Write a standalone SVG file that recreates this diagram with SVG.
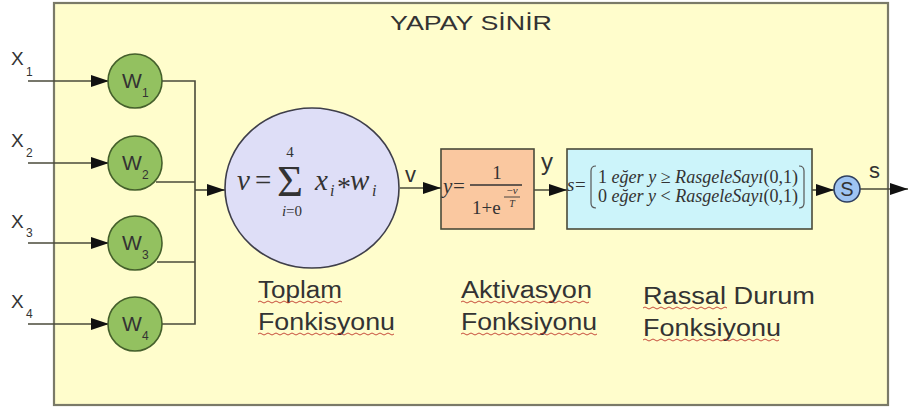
<svg xmlns="http://www.w3.org/2000/svg" width="908" height="409" viewBox="0 0 908 409">
<defs>
<marker id="ah" markerWidth="18" markerHeight="12" refX="18" refY="6" orient="auto" markerUnits="userSpaceOnUse"><path d="M0,0 L18,6 L0,12 z" fill="#111"/></marker>
<style>
.sans{font-family:"Liberation Sans",Arial,sans-serif;fill:#333}
.ser{font-family:"Liberation Serif","Times New Roman",serif;fill:#333}
.it{font-style:italic}
.conn{stroke:#4a4a3a;stroke-width:1.6;fill:none}
.wc{fill:#93c160;stroke:#45602c;stroke-width:1.6}
.wavy{stroke:#c0392b;stroke-width:0.9;fill:none}
</style>
</defs>
<rect x="0" y="0" width="908" height="409" fill="#ffffff"/>
<g id="frame">
<rect x="54" y="3" width="834" height="402" fill="#fffdcc" stroke="#7a7a68" stroke-width="2.2"/>
<text class="sans" x="390" y="30" font-size="21" textLength="162" lengthAdjust="spacingAndGlyphs">YAPAY SİNİR</text>
</g>
<g id="inputs">
<text class="sans" x="11" y="65" font-size="19">X</text><text class="sans" x="26" y="76" font-size="12">1</text>
<text class="sans" x="11" y="147" font-size="19">X</text><text class="sans" x="26" y="157" font-size="12">2</text>
<text class="sans" x="11" y="228" font-size="19">X</text><text class="sans" x="26" y="237" font-size="12">3</text>
<text class="sans" x="11" y="308" font-size="19">X</text><text class="sans" x="26" y="318" font-size="12">4</text>
</g>
<g id="connectors">
<path class="conn" d="M28,81 H109" marker-end="url(#ah)"/>
<path class="conn" d="M28,163 H109" marker-end="url(#ah)"/>
<path class="conn" d="M28,243 H109" marker-end="url(#ah)"/>
<path class="conn" d="M28,324 H109" marker-end="url(#ah)"/>
<path class="conn" d="M162,81 H195 V324 H162"/>
<path class="conn" d="M156,182 H195"/>
<path class="conn" d="M157,262 H195"/>
<path class="conn" d="M195,190 H225" marker-end="url(#ah)"/>
<path class="conn" d="M400,188 H441" marker-end="url(#ah)"/>
<path class="conn" d="M534,190 H567" marker-end="url(#ah)"/>
<path class="conn" d="M812,190 H834" marker-end="url(#ah)"/>
<path class="conn" d="M860,189 H908" marker-end="url(#ah)"/>
<text class="sans" x="405" y="182" font-size="22">v</text>
<text class="sans" x="541" y="170" font-size="24">y</text>
<text class="sans" x="869" y="178" font-size="22">s</text>
</g>
<g id="w1"><circle class="wc" cx="135" cy="81" r="27"/><text class="sans" x="122" y="88" font-size="21">W</text><text class="sans" x="142" y="97" font-size="12">1</text></g>
<g id="w2"><circle class="wc" cx="135" cy="163" r="27"/><text class="sans" x="122" y="170" font-size="21">W</text><text class="sans" x="142" y="179" font-size="12">2</text></g>
<g id="w3"><circle class="wc" cx="135" cy="243" r="27"/><text class="sans" x="122" y="250" font-size="21">W</text><text class="sans" x="142" y="259" font-size="12">3</text></g>
<g id="w4"><circle class="wc" cx="135" cy="324" r="27"/><text class="sans" x="122" y="331" font-size="21">W</text><text class="sans" x="142" y="340" font-size="12">4</text></g>
<g id="sum">
<ellipse cx="312" cy="188" rx="87" ry="80" fill="#dedef7" stroke="#3e3e4a" stroke-width="1.6"/>
<text class="ser it" x="237" y="190" font-size="29">v</text>
<text class="ser" x="255" y="190" font-size="29">=</text>
<text class="ser" x="277" y="196" font-size="44" textLength="26" lengthAdjust="spacingAndGlyphs">Σ</text>
<text class="ser" x="290" y="157" font-size="15" text-anchor="middle">4</text>
<text class="ser" x="292" y="216" font-size="15" text-anchor="middle"><tspan class="it">i</tspan>=0</text>
<text class="ser it" x="315" y="190" font-size="29">x</text>
<text class="ser it" x="330" y="196" font-size="16">i</text>
<text class="ser" x="337" y="196" font-size="28">*</text>
<text class="ser it" x="350" y="190" font-size="29">w</text>
<text class="ser it" x="372" y="196" font-size="16">i</text>
</g>
<g id="activation">
<rect x="441" y="149" width="93" height="80" fill="#fac8a0" stroke="#4a4a3a" stroke-width="1.6"/>
<text class="ser it" x="443" y="193" font-size="21">y</text>
<text class="ser" x="453" y="193" font-size="21">=</text>
<line x1="470" y1="185" x2="522" y2="185" stroke="#333" stroke-width="1.3"/>
<text class="ser" x="497" y="179" font-size="19" text-anchor="middle">1</text>
<text class="ser" x="472" y="214" font-size="19">1+e</text>
<text class="ser" x="512" y="194" font-size="11" text-anchor="middle">−<tspan class="it">v</tspan></text>
<line x1="504" y1="197" x2="520" y2="197" stroke="#333" stroke-width="0.9"/>
<text class="ser it" x="512" y="207" font-size="10" text-anchor="middle">T</text>
</g>
<g id="stochastic">
<rect x="567" y="149" width="245" height="80" fill="#ccf4fa" stroke="#4a4a3a" stroke-width="1.6"/>
<text class="ser it" x="567" y="191" font-size="19">s</text>
<text class="ser" x="575" y="191" font-size="19">=</text>
<path d="M596,166 Q591,166 591,171 V203 Q591,208 596,208" stroke="#555" stroke-width="1.2" fill="none"/>
<path d="M799,166 Q804,166 804,171 V203 Q804,208 799,208" stroke="#555" stroke-width="1.2" fill="none"/>
<text class="ser" x="598" y="183" font-size="18" textLength="200" lengthAdjust="spacingAndGlyphs">1 <tspan class="it">eğer y</tspan> ≥ <tspan class="it">RasgeleSayı</tspan>(0,1)</text>
<text class="ser" x="598" y="202" font-size="18" textLength="200" lengthAdjust="spacingAndGlyphs">0 <tspan class="it">eğer y</tspan> &lt; <tspan class="it">RasgeleSayı</tspan>(0,1)</text>
</g>
<g id="s-node">
<circle cx="847" cy="189" r="13" fill="#9fc4f2" stroke="#2f3f5f" stroke-width="1.6"/>
<text class="sans" x="847" y="196" font-size="20" text-anchor="middle">S</text>
</g>
<g id="labels">
<text class="sans" x="258" y="298" font-size="23" textLength="84" lengthAdjust="spacingAndGlyphs">Toplam</text>
<text class="sans" x="258" y="330" font-size="23" textLength="137" lengthAdjust="spacingAndGlyphs">Fonkisyonu</text>
<text class="sans" x="461" y="298" font-size="23" textLength="131" lengthAdjust="spacingAndGlyphs">Aktivasyon</text>
<text class="sans" x="461" y="330" font-size="23" textLength="136" lengthAdjust="spacingAndGlyphs">Fonksiyonu</text>
<text class="sans" x="643" y="304" font-size="23" textLength="172" lengthAdjust="spacingAndGlyphs">Rassal Durum</text>
<text class="sans" x="643" y="336" font-size="23" textLength="138" lengthAdjust="spacingAndGlyphs">Fonksiyonu</text>
<path class="wavy" d="M258,302 q2,-2 4,0 t4,0 t4,0 t4,0 t4,0 t4,0 t4,0 t4,0 t4,0 t4,0 t4,0 t4,0 t4,0 t4,0 t4,0 t4,0 t4,0 t4,0 t4,0 t4,0 t4,0"/>
<path class="wavy" d="M258,334 q2,-2 4,0 t4,0 t4,0 t4,0 t4,0 t4,0 t4,0 t4,0 t4,0 t4,0 t4,0 t4,0 t4,0 t4,0 t4,0 t4,0 t4,0 t4,0 t4,0 t4,0 t4,0 t4,0 t4,0 t4,0 t4,0 t4,0 t4,0 t4,0 t4,0 t4,0 t4,0 t4,0 t4,0 t4,0"/>
<path class="wavy" d="M461,302 q2,-2 4,0 t4,0 t4,0 t4,0 t4,0 t4,0 t4,0 t4,0 t4,0 t4,0 t4,0 t4,0 t4,0 t4,0 t4,0 t4,0 t4,0 t4,0 t4,0 t4,0 t4,0 t4,0 t4,0 t4,0 t4,0 t4,0 t4,0 t4,0 t4,0 t4,0 t4,0 t4,0"/>
<path class="wavy" d="M461,334 q2,-2 4,0 t4,0 t4,0 t4,0 t4,0 t4,0 t4,0 t4,0 t4,0 t4,0 t4,0 t4,0 t4,0 t4,0 t4,0 t4,0 t4,0 t4,0 t4,0 t4,0 t4,0 t4,0 t4,0 t4,0 t4,0 t4,0 t4,0 t4,0 t4,0 t4,0 t4,0 t4,0 t4,0 t4,0"/>
<path class="wavy" d="M643,308 q2,-2 4,0 t4,0 t4,0 t4,0 t4,0 t4,0 t4,0 t4,0 t4,0 t4,0 t4,0 t4,0 t4,0 t4,0 t4,0 t4,0 t4,0 t4,0 t4,0 t4,0 t4,0"/>
<path class="wavy" d="M643,340 q2,-2 4,0 t4,0 t4,0 t4,0 t4,0 t4,0 t4,0 t4,0 t4,0 t4,0 t4,0 t4,0 t4,0 t4,0 t4,0 t4,0 t4,0 t4,0 t4,0 t4,0 t4,0 t4,0 t4,0 t4,0 t4,0 t4,0 t4,0 t4,0 t4,0 t4,0 t4,0 t4,0 t4,0 t4,0"/>
</g>
</svg>
